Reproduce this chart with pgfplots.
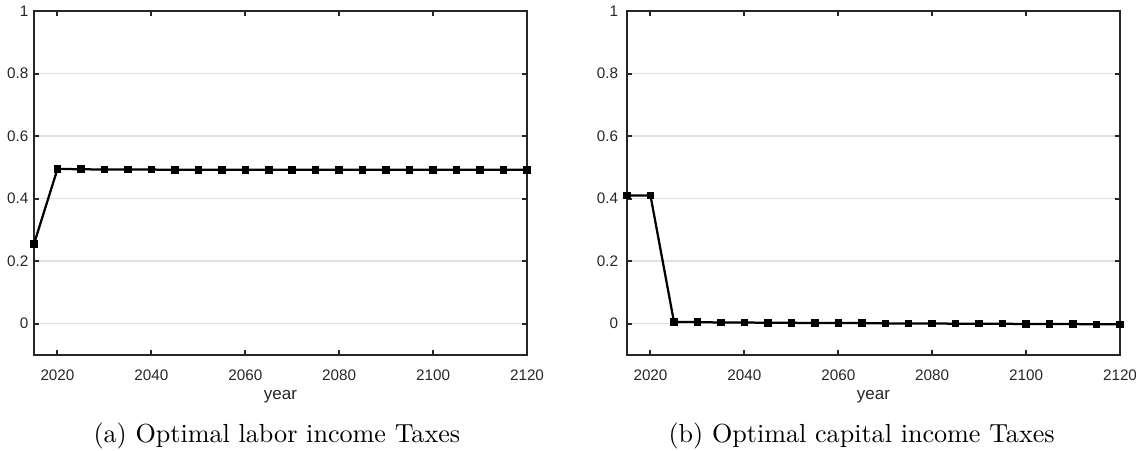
\documentclass[border=0pt]{standalone}
\usepackage{pgfplots}
\pgfplotsset{compat=1.18}
\usepackage{fontspec}
\newfontfamily\helv{Liberation Sans}
\definecolor{axisgray}{HTML}{262626}
\definecolor{gridgray}{HTML}{DFDFDF}

\pgfplotsset{
  taxpanel/.style={
    scale only axis,
    width=197.2pt, height=137.6pt,
    xmin=2015, xmax=2120, ymin=-0.1, ymax=1,
    xtick={2020,2040,...,2120},
    ytick={0,0.2,...,1},
    yticklabels={0,0.2,0.4,0.6,0.8,1},
    scaled ticks=false,
    /pgf/number format/set thousands separator={},
    /pgf/number format/assume math mode=true,
    tick align=inside,
    major tick length=2pt,
    tick style={color=axisgray, line width=0.8pt},
    axis line style={color=axisgray, line width=0.8pt},
    ymajorgrids,
    major grid style={color=gridgray, line width=0.6pt},
    tick label style={font=\helv\fontsize{6.1}{7}\selectfont, text=axisgray},
    xticklabel style={yshift=-2.6pt},
    xlabel={year},
    xlabel style={font=\helv\fontsize{6.8}{8}\selectfont, text=axisgray, yshift=3.0pt},
    clip=false,
  },
  taxline/.style={
    black, line width=0.9pt,
    mark=square*, mark size=1.25pt,
    mark options={solid, fill=black, line width=0.5pt}
  },
}

\begin{document}
\begin{tikzpicture}
\useasboundingbox (0,0) rectangle (454.4pt,180pt);

% (a) labor income tax rate
\begin{axis}[taxpanel, at={(13.6pt,38pt)}, anchor=south west,
  yticklabel style={xshift=1.3pt}]
\addplot[taxline] coordinates {
(2015,0.255) (2020,0.495) (2025,0.494) (2030,0.493) (2035,0.493)
(2040,0.493) (2045,0.492) (2050,0.492) (2055,0.492) (2060,0.492)
(2065,0.492) (2070,0.492) (2075,0.492) (2080,0.492) (2085,0.492)
(2090,0.492) (2095,0.492) (2100,0.492) (2105,0.492) (2110,0.492)
(2115,0.492) (2120,0.492)
};
\end{axis}

% (b) capital income tax rate
\begin{axis}[taxpanel, at={(250.8pt,38pt)}, anchor=south west]
\addplot[taxline] coordinates {
(2015,0.410) (2020,0.410) (2025,0.006) (2030,0.005) (2035,0.004)
(2040,0.004) (2045,0.003) (2050,0.003) (2055,0.002) (2060,0.002)
(2065,0.002) (2070,0.001) (2075,0.001) (2080,0.001) (2085,0.000)
(2090,0.000) (2095,0.000) (2100,-0.001) (2105,-0.001) (2110,-0.001)
(2115,-0.002) (2120,-0.002)
};
\end{axis}

\node[anchor=base west, inner sep=0pt, font=\fontsize{10.45}{12}\selectfont] at (37.2pt,3.2pt) {(a) Optimal labor income Taxes};
\node[anchor=base west, inner sep=0pt, font=\fontsize{10.45}{12}\selectfont] at (267.2pt,3.2pt) {(b) Optimal capital income Taxes};
\end{tikzpicture}
\end{document}
